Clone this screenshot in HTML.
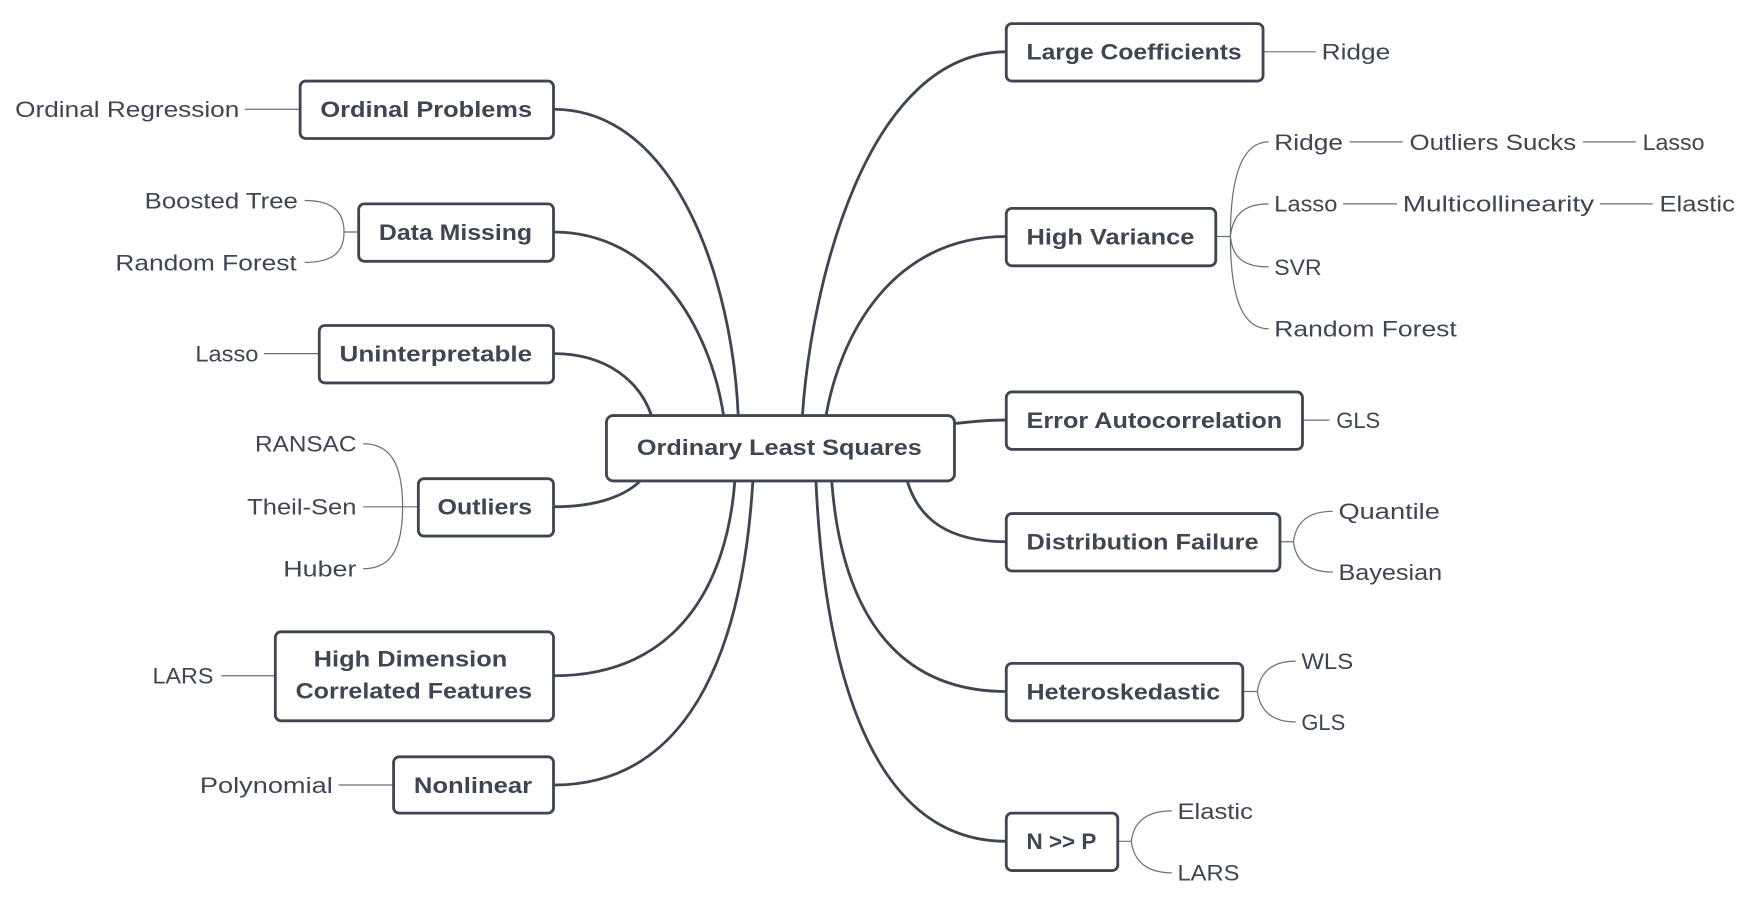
<!DOCTYPE html>
<html><head><meta charset="utf-8"><style>
html,body{margin:0;padding:0;background:#fff;}
svg{display:block;}
text{font-family:"Liberation Sans",sans-serif;fill:#3f4650;}
.b{font-weight:bold;font-size:20px;}
.l{font-size:20px;}
.box{fill:#fff;stroke:#3f4650;stroke-width:2.5;}
.c{fill:none;stroke:#3f4650;stroke-width:2.5;}
.t{fill:none;stroke:#6a7078;stroke-width:1.1;}
</style></head><body>
<svg width="1758" height="901" viewBox="0 0 1560 800" xmlns="http://www.w3.org/2000/svg">
<!-- main connectors -->
<path class="c" d="M491,97 C600,97 650,250 655,369"/>
<path class="c" d="M491,206 C580,206 630,290 642,369"/>
<path class="c" d="M491,314 C540,314 568,340 578,369"/>
<path class="c" d="M491,450 C530,450 555,440 568,427"/>
<path class="c" d="M491,600 C600,600 645,520 652,427"/>
<path class="c" d="M491,697 C620,697 660,560 668,427"/>
<path class="c" d="M893,46 C770,46 720,250 712,369"/>
<path class="c" d="M893,210 C790,210 745,300 733,369"/>
<path class="c" d="M893,373 C870,373 860,375 847,376"/>
<path class="c" d="M893,481 C840,481 815,460 805,427"/>
<path class="c" d="M893,614 C780,614 745,520 738,427"/>
<path class="c" d="M893,747 C760,747 730,560 724,427"/>
<!-- leaf lines left -->
<path class="t" d="M217,97 H266"/>
<path class="t" d="M318,206 H305 M305,206 C305,188 295,178 270,178 M305,206 C305,224 295,233 270,233"/>
<path class="t" d="M234,314 H283"/>
<path class="t" d="M371,450 H357 M357,450 C357,410 345,394 322,394 M357,450 H322 M357,450 C357,490 345,505 322,505"/>
<path class="t" d="M196,600 H244"/>
<path class="t" d="M300,697 H349"/>
<!-- leaf lines right -->
<path class="t" d="M1121,46 H1168"/>
<path class="t" d="M1079,210 H1092 M1092,210 C1092,150 1105,126 1126,126 M1092,210 C1094,190 1105,181 1126,181 M1092,210 C1094,230 1105,237 1126,237 M1092,210 C1092,270 1105,292 1126,292"/>
<path class="t" d="M1198,126 H1245 M1405,126 H1452 M1192,181 H1240 M1420,181 H1467"/>
<path class="t" d="M1156,373 H1180"/>
<path class="t" d="M1136,481 H1148 M1148,481 C1150,465 1160,454 1183,454 M1148,481 C1150,497 1160,508 1183,508"/>
<path class="t" d="M1103,614 H1116 M1116,614 C1118,598 1128,587 1150,587 M1116,614 C1118,630 1128,641 1150,641"/>
<path class="t" d="M992,747 H1004 M1004,747 C1006,731 1016,720 1040,720 M1004,747 C1006,763 1016,775 1040,775"/>
<!-- boxes -->
<rect class="box" x="538" y="369" width="309" height="58" rx="6"/>
<rect class="box" x="266" y="72" width="225" height="51" rx="5"/>
<rect class="box" x="318" y="181" width="173" height="51" rx="5"/>
<rect class="box" x="283" y="289" width="208" height="51" rx="5"/>
<rect class="box" x="371" y="425" width="120" height="51" rx="5"/>
<rect class="box" x="244" y="561" width="247" height="79" rx="5"/>
<rect class="box" x="349" y="672" width="142" height="50" rx="5"/>
<rect class="box" x="893" y="21" width="228" height="51" rx="5"/>
<rect class="box" x="893" y="185" width="186" height="51" rx="5"/>
<rect class="box" x="893" y="348" width="263" height="51" rx="5"/>
<rect class="box" x="893" y="456" width="243" height="51" rx="5"/>
<rect class="box" x="893" y="589" width="210" height="51" rx="5"/>
<rect class="box" x="893" y="722" width="99" height="51" rx="5"/>
<!-- box labels -->
<text class="b" x="565" y="404" textLength="253" lengthAdjust="spacingAndGlyphs">Ordinary Least Squares</text>
<text class="b" x="284" y="104" textLength="188" lengthAdjust="spacingAndGlyphs">Ordinal Problems</text>
<text class="b" x="336" y="213" textLength="136" lengthAdjust="spacingAndGlyphs">Data Missing</text>
<text class="b" x="301" y="321" textLength="171" lengthAdjust="spacingAndGlyphs">Uninterpretable</text>
<text class="b" x="388" y="457" textLength="84" lengthAdjust="spacingAndGlyphs">Outliers</text>
<text class="b" x="278" y="592" textLength="172" lengthAdjust="spacingAndGlyphs">High Dimension</text>
<text class="b" x="262" y="620" textLength="210" lengthAdjust="spacingAndGlyphs">Correlated Features</text>
<text class="b" x="367" y="704" textLength="105" lengthAdjust="spacingAndGlyphs">Nonlinear</text>
<text class="b" x="911" y="53" textLength="191" lengthAdjust="spacingAndGlyphs">Large Coefficients</text>
<text class="b" x="911" y="217" textLength="149" lengthAdjust="spacingAndGlyphs">High Variance</text>
<text class="b" x="911" y="380" textLength="227" lengthAdjust="spacingAndGlyphs">Error Autocorrelation</text>
<text class="b" x="911" y="488" textLength="206" lengthAdjust="spacingAndGlyphs">Distribution Failure</text>
<text class="b" x="911" y="621" textLength="172" lengthAdjust="spacingAndGlyphs">Heteroskedastic</text>
<text class="b" x="911" y="754" textLength="62" lengthAdjust="spacingAndGlyphs">N &gt;&gt; P</text>
<!-- left leaves -->
<text class="l" x="13" y="104" textLength="199" lengthAdjust="spacingAndGlyphs">Ordinal Regression</text>
<text class="l" x="128" y="185" textLength="136" lengthAdjust="spacingAndGlyphs">Boosted Tree</text>
<text class="l" x="102" y="240" textLength="161" lengthAdjust="spacingAndGlyphs">Random Forest</text>
<text class="l" x="173" y="321" textLength="56" lengthAdjust="spacingAndGlyphs">Lasso</text>
<text class="l" x="226" y="401" textLength="90" lengthAdjust="spacingAndGlyphs">RANSAC</text>
<text class="l" x="219" y="457" textLength="97" lengthAdjust="spacingAndGlyphs">Theil-Sen</text>
<text class="l" x="251" y="512" textLength="65" lengthAdjust="spacingAndGlyphs">Huber</text>
<text class="l" x="135" y="607" textLength="54" lengthAdjust="spacingAndGlyphs">LARS</text>
<text class="l" x="177" y="704" textLength="118" lengthAdjust="spacingAndGlyphs">Polynomial</text>
<!-- right leaves -->
<text class="l" x="1173" y="53" textLength="61" lengthAdjust="spacingAndGlyphs">Ridge</text>
<text class="l" x="1131" y="133" textLength="61" lengthAdjust="spacingAndGlyphs">Ridge</text>
<text class="l" x="1251" y="133" textLength="148" lengthAdjust="spacingAndGlyphs">Outliers Sucks</text>
<text class="l" x="1458" y="133" textLength="55" lengthAdjust="spacingAndGlyphs">Lasso</text>
<text class="l" x="1131" y="188" textLength="56" lengthAdjust="spacingAndGlyphs">Lasso</text>
<text class="l" x="1245" y="188" textLength="170" lengthAdjust="spacingAndGlyphs">Multicollinearity</text>
<text class="l" x="1473" y="188" textLength="67" lengthAdjust="spacingAndGlyphs">Elastic</text>
<text class="l" x="1131" y="244" textLength="42" lengthAdjust="spacingAndGlyphs">SVR</text>
<text class="l" x="1131" y="299" textLength="162" lengthAdjust="spacingAndGlyphs">Random Forest</text>
<text class="l" x="1186" y="380" textLength="39" lengthAdjust="spacingAndGlyphs">GLS</text>
<text class="l" x="1188" y="461" textLength="90" lengthAdjust="spacingAndGlyphs">Quantile</text>
<text class="l" x="1188" y="515" textLength="92" lengthAdjust="spacingAndGlyphs">Bayesian</text>
<text class="l" x="1155" y="594" textLength="46" lengthAdjust="spacingAndGlyphs">WLS</text>
<text class="l" x="1155" y="648" textLength="39" lengthAdjust="spacingAndGlyphs">GLS</text>
<text class="l" x="1045" y="727" textLength="67" lengthAdjust="spacingAndGlyphs">Elastic</text>
<text class="l" x="1045" y="782" textLength="55" lengthAdjust="spacingAndGlyphs">LARS</text>
</svg>
</body></html>
